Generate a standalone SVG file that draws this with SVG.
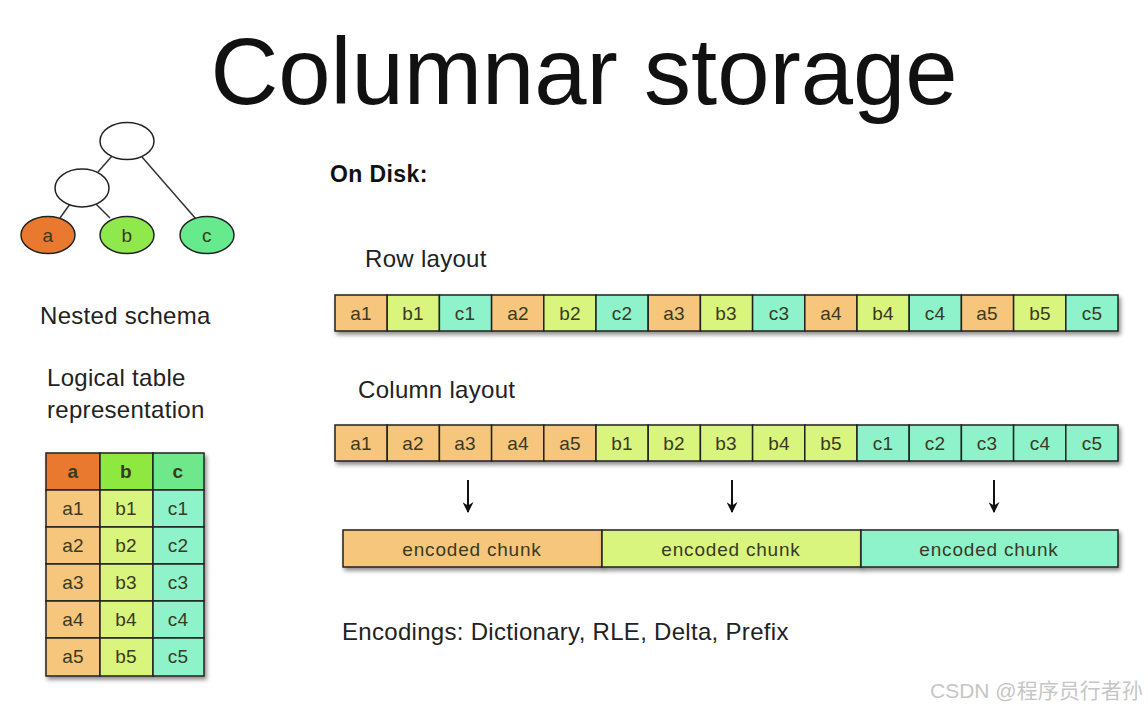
<svg xmlns="http://www.w3.org/2000/svg" width="1148" height="710" viewBox="0 0 1148 710">
<defs>
<filter id="sh" x="-5%" y="-20%" width="110%" height="150%">
<feDropShadow dx="2" dy="3" stdDeviation="2" flood-color="#000" flood-opacity="0.45"/>
</filter>
<marker id="ah" viewBox="0 0 10 10" refX="9" refY="5" markerWidth="11" markerHeight="11" orient="auto" markerUnits="userSpaceOnUse">
<path d="M0,0 L10,5 L0,10 L3,5 z" fill="#111"/>
</marker>
</defs>
<style>
text{font-family:"Liberation Sans",Arial,sans-serif;}
.lbl{font-size:24px;fill:#222;letter-spacing:0.3px;}
.cell{stroke:#222;stroke-width:1.5;}
.ct{font-size:19px;fill:#3a3a22;text-anchor:middle;letter-spacing:0.3px;}
.ch{font-size:19px;fill:#3a3a22;text-anchor:middle;letter-spacing:0.8px;}
.A{fill:#f6c67b;}
.B{fill:#d9f57d;}
.C{fill:#8ef3cb;}
.node{stroke:#222;stroke-width:1.5;}
.edge{stroke:#333;stroke-width:1.5;fill:none;}
.arr{stroke:#111;stroke-width:2;fill:none;}
</style>
<rect width="1148" height="710" fill="#fff"/>
<text x="584" y="104" text-anchor="middle" font-size="94" fill="#111">Columnar storage</text>
<g id="connectors">
<line class="edge" x1="112" y1="156" x2="98" y2="172"/>
<line class="edge" x1="142" y1="157" x2="196" y2="219"/>
<line class="edge" x1="70" y1="204" x2="60" y2="218"/>
<line class="edge" x1="96" y1="204" x2="110" y2="218"/>
<line class="arr" x1="468" y1="480" x2="468" y2="512" marker-end="url(#ah)"/>
<line class="arr" x1="732" y1="480" x2="732" y2="512" marker-end="url(#ah)"/>
<line class="arr" x1="994" y1="480" x2="994" y2="512" marker-end="url(#ah)"/>
</g>
<g id="root"><ellipse class="node" cx="127" cy="141" rx="27" ry="18.5" fill="#fff"/></g>
<g id="mid"><ellipse class="node" cx="82" cy="188" rx="27" ry="19" fill="#fff"/></g>
<g id="node-a"><ellipse class="node" cx="48" cy="235" rx="27" ry="18.5" fill="#e8792f"/><text x="48" y="242" class="ct" font-size="20">a</text></g>
<g id="node-b"><ellipse class="node" cx="127" cy="235" rx="27" ry="18.5" fill="#8fe84c"/><text x="127" y="242" class="ct">b</text></g>
<g id="node-c"><ellipse class="node" cx="207" cy="235" rx="27" ry="18.5" fill="#66ea8d"/><text x="207" y="242" class="ct">c</text></g>
<text x="40" y="324" class="lbl">Nested schema</text>
<text x="47" y="386" class="lbl">Logical table</text>
<text x="47" y="418" class="lbl">representation</text>
<g id="table" filter="url(#sh)">
<rect class="cell" x="46" y="453" width="54" height="37" fill="#e8792f"/>
<rect class="cell" x="100" y="453" width="53" height="37" fill="#8fe83f"/>
<rect class="cell" x="153" y="453" width="51" height="37" fill="#6ee88a"/>
<rect class="cell A" x="46" y="490" width="54" height="37"/><rect class="cell B" x="100" y="490" width="53" height="37"/><rect class="cell C" x="153" y="490" width="51" height="37"/>
<rect class="cell A" x="46" y="527" width="54" height="37"/><rect class="cell B" x="100" y="527" width="53" height="37"/><rect class="cell C" x="153" y="527" width="51" height="37"/>
<rect class="cell A" x="46" y="564" width="54" height="37"/><rect class="cell B" x="100" y="564" width="53" height="37"/><rect class="cell C" x="153" y="564" width="51" height="37"/>
<rect class="cell A" x="46" y="601" width="54" height="37"/><rect class="cell B" x="100" y="601" width="53" height="37"/><rect class="cell C" x="153" y="601" width="51" height="37"/>
<rect class="cell A" x="46" y="638" width="54" height="38"/><rect class="cell B" x="100" y="638" width="53" height="38"/><rect class="cell C" x="153" y="638" width="51" height="38"/>
</g>
<g id="table-text">
<text x="73" y="478" class="ct" font-weight="bold" fill="#222">a</text><text x="126" y="478" class="ct" font-weight="bold" fill="#222">b</text><text x="178" y="478" class="ct" font-weight="bold" fill="#222">c</text>
<text x="73" y="515" class="ct">a1</text><text x="126" y="515" class="ct">b1</text><text x="178" y="515" class="ct">c1</text>
<text x="73" y="552" class="ct">a2</text><text x="126" y="552" class="ct">b2</text><text x="178" y="552" class="ct">c2</text>
<text x="73" y="589" class="ct">a3</text><text x="126" y="589" class="ct">b3</text><text x="178" y="589" class="ct">c3</text>
<text x="73" y="626" class="ct">a4</text><text x="126" y="626" class="ct">b4</text><text x="178" y="626" class="ct">c4</text>
<text x="73" y="663" class="ct">a5</text><text x="126" y="663" class="ct">b5</text><text x="178" y="663" class="ct">c5</text>
</g>
<text x="330" y="182" font-size="23" font-weight="bold" fill="#111" letter-spacing="0.4">On Disk:</text>
<text x="365" y="267" class="lbl">Row layout</text>
<g id="row-layout">
<g filter="url(#sh)">
<rect class="cell A" x="335" y="295" width="52.2" height="36"/>
<rect class="cell B" x="387.2" y="295" width="52.2" height="36"/>
<rect class="cell C" x="439.4" y="295" width="52.2" height="36"/>
<rect class="cell A" x="491.6" y="295" width="52.2" height="36"/>
<rect class="cell B" x="543.8" y="295" width="52.2" height="36"/>
<rect class="cell C" x="596" y="295" width="52.2" height="36"/>
<rect class="cell A" x="648.2" y="295" width="52.2" height="36"/>
<rect class="cell B" x="700.4" y="295" width="52.2" height="36"/>
<rect class="cell C" x="752.6" y="295" width="52.2" height="36"/>
<rect class="cell A" x="804.8" y="295" width="52.2" height="36"/>
<rect class="cell B" x="857" y="295" width="52.2" height="36"/>
<rect class="cell C" x="909.2" y="295" width="52.2" height="36"/>
<rect class="cell A" x="961.4" y="295" width="52.2" height="36"/>
<rect class="cell B" x="1013.6" y="295" width="52.2" height="36"/>
<rect class="cell C" x="1065.8" y="295" width="52.2" height="36"/>
</g>
<text x="361" y="320" class="ct">a1</text><text x="413" y="320" class="ct">b1</text><text x="465" y="320" class="ct">c1</text>
<text x="518" y="320" class="ct">a2</text><text x="570" y="320" class="ct">b2</text><text x="622" y="320" class="ct">c2</text>
<text x="674" y="320" class="ct">a3</text><text x="726" y="320" class="ct">b3</text><text x="779" y="320" class="ct">c3</text>
<text x="831" y="320" class="ct">a4</text><text x="883" y="320" class="ct">b4</text><text x="935" y="320" class="ct">c4</text>
<text x="987" y="320" class="ct">a5</text><text x="1040" y="320" class="ct">b5</text><text x="1092" y="320" class="ct">c5</text>
</g>
<text x="358" y="398" class="lbl">Column layout</text>
<g id="column-layout">
<g filter="url(#sh)">
<rect class="cell A" x="335" y="425" width="52.2" height="36"/>
<rect class="cell A" x="387.2" y="425" width="52.2" height="36"/>
<rect class="cell A" x="439.4" y="425" width="52.2" height="36"/>
<rect class="cell A" x="491.6" y="425" width="52.2" height="36"/>
<rect class="cell A" x="543.8" y="425" width="52.2" height="36"/>
<rect class="cell B" x="596" y="425" width="52.2" height="36"/>
<rect class="cell B" x="648.2" y="425" width="52.2" height="36"/>
<rect class="cell B" x="700.4" y="425" width="52.2" height="36"/>
<rect class="cell B" x="752.6" y="425" width="52.2" height="36"/>
<rect class="cell B" x="804.8" y="425" width="52.2" height="36"/>
<rect class="cell C" x="857" y="425" width="52.2" height="36"/>
<rect class="cell C" x="909.2" y="425" width="52.2" height="36"/>
<rect class="cell C" x="961.4" y="425" width="52.2" height="36"/>
<rect class="cell C" x="1013.6" y="425" width="52.2" height="36"/>
<rect class="cell C" x="1065.8" y="425" width="52.2" height="36"/>
</g>
<text x="361" y="450" class="ct">a1</text><text x="413" y="450" class="ct">a2</text><text x="465" y="450" class="ct">a3</text>
<text x="518" y="450" class="ct">a4</text><text x="570" y="450" class="ct">a5</text><text x="622" y="450" class="ct">b1</text>
<text x="674" y="450" class="ct">b2</text><text x="726" y="450" class="ct">b3</text><text x="779" y="450" class="ct">b4</text>
<text x="831" y="450" class="ct">b5</text><text x="883" y="450" class="ct">c1</text><text x="935" y="450" class="ct">c2</text>
<text x="987" y="450" class="ct">c3</text><text x="1040" y="450" class="ct">c4</text><text x="1092" y="450" class="ct">c5</text>
</g>
<g id="chunk-a"><rect class="cell A" x="343" y="530" width="259" height="37" filter="url(#sh)"/><text x="472" y="556" class="ch">encoded chunk</text></g>
<g id="chunk-b"><rect class="cell B" x="602" y="530" width="259" height="37" filter="url(#sh)"/><text x="731" y="556" class="ch">encoded chunk</text></g>
<g id="chunk-c"><rect class="cell C" x="861" y="530" width="257" height="37" filter="url(#sh)"/><text x="989" y="556" class="ch">encoded chunk</text></g>
<text x="342" y="640" class="lbl">Encodings: Dictionary, RLE, Delta, Prefix</text>
<text x="930" y="698" font-size="21" fill="#c6c6c6" style="font-family:'Liberation Sans','Noto Sans CJK SC',sans-serif">CSDN @程序员行者孙</text>
</svg>
